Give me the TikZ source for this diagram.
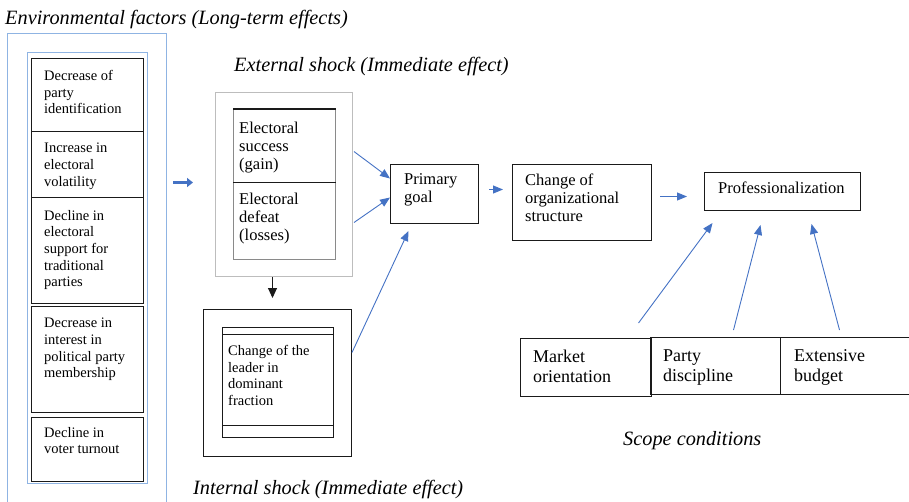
\documentclass[tikz,border=0pt]{standalone}
\usepackage{fontspec}
\setmainfont{Liberation Serif}
\usetikzlibrary{arrows.meta}
\definecolor{sblue}{HTML}{4472C4}
\definecolor{lblue}{HTML}{8FB4E3}
\definecolor{lgray}{HTML}{BDBDBD}
\definecolor{mgray}{HTML}{8A8A8A}
\definecolor{dgray}{HTML}{1a1a1a}

\begin{document}
\begin{tikzpicture}[x=1pt, y=-1pt,
	box/.style={draw=dgray, line width=1pt, anchor=north west, inner sep=0pt},
	txt/.style={anchor=north west, inner sep=0pt, align=left},
	small/.style={font=\fontsize{14.5}{16.6}\selectfont},
	mid/.style={font=\fontsize{16.5}{18.2}\selectfont},
	big/.style={font=\fontsize{18}{20}\selectfont},
	caption/.style={anchor=base west, inner sep=0pt, font=\fontsize{20.3}{22}\selectfont\itshape},
	link/.style={color=sblue, line width=0.9pt, -{Triangle[length=10pt,width=8pt]}}]
		\useasboundingbox (0,0) rectangle (909,501);
		\clip (0,0) rectangle (909,501);
		% environmental factors
		\node[caption] (envt) at (5,24) {Environmental factors (Long-term effects)};
		\node[box, draw=lblue, minimum width=159pt, minimum height=480pt] (env) at (7,33) {};
		\node[box, draw=lblue, minimum width=120pt, minimum height=431pt] (envi) at (27,52) {};
		\node[box, minimum width=112pt, minimum height=73pt] (b1) at (31,58) {};
		\node[box, minimum width=112pt, minimum height=66pt] (b2) at (31,131) {};
		\node[box, minimum width=112pt, minimum height=106pt] (b3) at (31,197) {};
		\node[box, minimum width=112pt, minimum height=106pt] (b4) at (31,306) {};
		\node[box, minimum width=112pt, minimum height=64pt] (b5) at (31,417) {};
		\node[txt, small] (t1) at (44,70) {Decrease of\\party\\identification};
		\node[txt, small] (t2) at (44,143) {Increase in\\electoral\\volatility};
		\node[txt, small] (t3) at (44,210) {Decline in\\electoral\\support for\\traditional\\parties};
		\node[txt, small] (t4) at (44,318) {Decrease in\\interest in\\political party\\membership};
		\node[txt, small] (t5) at (44,427) {Decline in\\voter turnout};
		% external shock
		\node[caption] (extt) at (234,71) {External shock (Immediate effect)};
		\node[box, draw=lgray, minimum width=137pt, minimum height=184pt] (exto) at (215,92) {};
		\node[box, draw=mgray, minimum width=102pt, minimum height=150pt] (exti) at (233,109) {};
		\draw[dgray, line width=1.8pt] (exti.north west) -- (exti.north east);
		\draw[dgray, line width=1pt] ([yshift=-73pt]exti.north west) -- ([yshift=-73pt]exti.north east);
		\node[txt, mid] (gain) at (239,121.6) {Electoral\\success\\(gain)};
		\node[txt, mid] (loss) at (239,192.6) {Electoral\\defeat\\(losses)};
		% internal shock
		\node[caption] (intt) at (193,494) {Internal shock (Immediate effect)};
		\node[box, minimum width=148pt, minimum height=147pt] (into) at (203,309) {};
		\node[box, minimum width=111pt, minimum height=110pt] (inti) at (222,327) {};
		\draw[dgray, line width=1pt] ([yshift=-7pt]inti.north west) -- ([yshift=-7pt]inti.north east);
		\draw[dgray, line width=1pt] ([yshift=13pt]inti.south west) -- ([yshift=13pt]inti.south east);
		\node[txt, small] (lead) at (228,345) {Change of the\\leader in\\dominant\\fraction};
		% outcomes
		\node[box, minimum width=88pt, minimum height=59pt] (pg) at (390,164) {};
		\node[txt, mid] (pgt) at (404,173.6) {Primary\\goal};
		\node[box, minimum width=139pt, minimum height=76pt] (cs) at (512,164) {};
		\node[txt, mid] (cst) at (525,173.6) {Change of\\organizational\\structure};
		\node[box, minimum width=156pt, minimum height=38pt] (prof) at (704,172) {};
		\node[txt, mid] (proft) at (718,181.6) {Professionalization};
		% scope conditions
		\node[caption] (scopet) at (623,445) {Scope conditions};
		\node[box, minimum width=131pt, minimum height=58pt] (mo) at (520,338) {};
		\node[box, minimum width=130pt, minimum height=57pt] (pd) at (650,337) {};
		\node[box, minimum width=140pt, minimum height=57pt] (eb) at (780,337) {};
		\node[txt, big] (mot) at (533,349.6) {Market\\orientation};
		\node[txt, big] (pdt) at (663,349.6) {Party\\discipline};
		\node[txt, big] (ebt) at (794,349.6) {Extensive\\budget};
		% arrows
		\draw[color=sblue, line width=3pt, -{Triangle[length=6pt,width=9pt]}] ([xshift=6pt,yshift=91pt]env.east) -- ([xshift=-22pt,yshift=2pt]exto.west);
		\draw[dgray, line width=0.9pt, -{Triangle[length=10pt,width=9pt]}] ([xshift=-11.5pt]exto.south) -- ([xshift=-5pt,yshift=11pt]into.north);
		\draw[link] ([xshift=1pt,yshift=33pt]exto.east) -- ([yshift=15.5pt]pg.west);
		\draw[link] ([xshift=1pt,yshift=-38pt]exto.east) -- ([yshift=-3.5pt]pg.west);
		\draw[link] ([yshift=30.5pt]into.east) -- ([xshift=-26pt,yshift=-7pt]pg.south);
		\draw[link] ([xshift=10pt,yshift=4.5pt]pg.east) -- ([xshift=-9pt,yshift=13pt]cs.west);
		\draw[link] ([xshift=8pt,yshift=6pt]cs.east) -- ([xshift=-17pt,yshift=-5pt]prof.west);
		\draw[link] ([xshift=52.5pt,yshift=15pt]mo.north) -- ([xshift=-70pt,yshift=-12pt]prof.south);
		\draw[link] ([xshift=18pt,yshift=7pt]pd.north) -- ([xshift=-22pt,yshift=-14pt]prof.south);
		\draw[link] ([xshift=-11pt,yshift=7pt]eb.north) -- ([xshift=29pt,yshift=-13pt]prof.south);
	\end{tikzpicture}
\end{document}
